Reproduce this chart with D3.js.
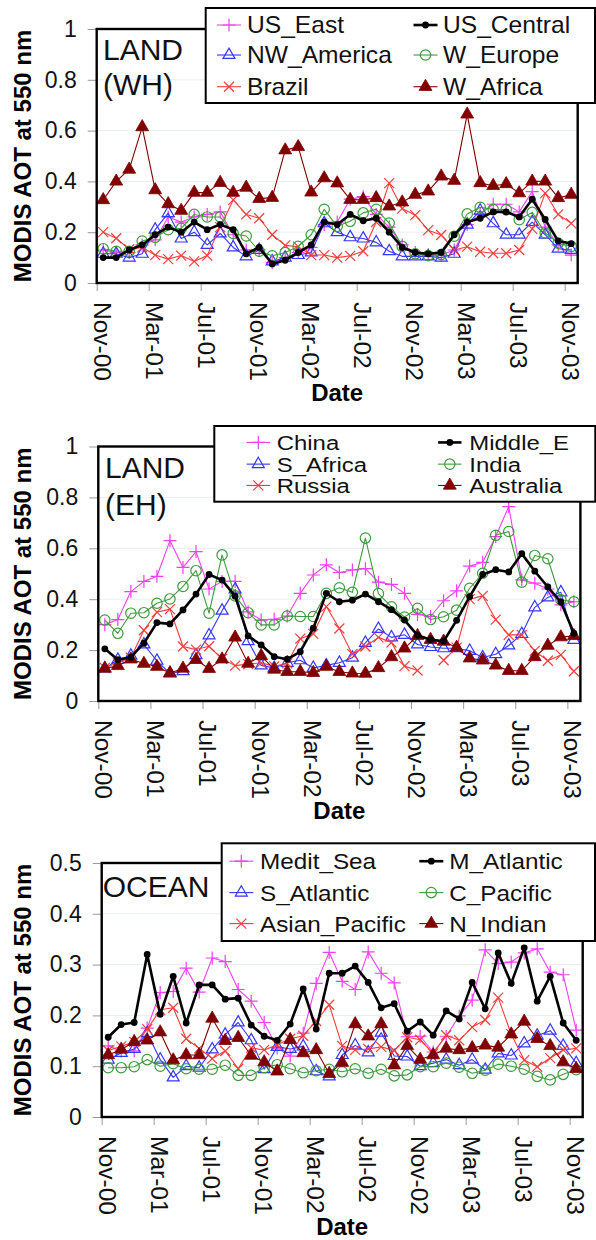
<!DOCTYPE html>
<html>
<head>
<meta charset="utf-8">
<script src="https://cdn.jsdelivr.net/npm/d3@7"></script>
<style>
  body { margin: 0; background: #fff; }
  svg { display: block; font-family: Arial, "Liberation Sans", Helvetica, sans-serif; }
</style>
</head>
<body>
<svg id="chart" width="596" height="1240"></svg>
<script>
// Monthly MODIS AOT (550 nm), Nov-2000 .. Nov-2003 (37 months)
const monthCount = 37;
const dateTicks = ["Nov-00","Mar-01","Jul-01","Nov-01","Mar-02","Jul-02","Nov-02","Mar-03","Jul-03","Nov-03"];
const landTicks = [0, 0.2, 0.4, 0.6, 0.8, 1];
const oceanTicks = [0, 0.1, 0.2, 0.3, 0.4, 0.5];

// LAND, western hemisphere
const usEast    = [0.13,0.12,0.12,0.15,0.17,0.26,0.24,0.26,0.27,0.28,0.19,0.13,0.13,0.08,0.10,0.12,0.14,0.23,0.24,0.33,0.34,0.27,0.22,0.15,0.12,0.11,0.11,0.13,0.23,0.27,0.31,0.31,0.28,0.36,0.22,0.15,0.11];
const usCentral = [0.10,0.10,0.13,0.15,0.19,0.22,0.20,0.24,0.21,0.23,0.21,0.115,0.14,0.075,0.09,0.12,0.15,0.24,0.23,0.27,0.245,0.255,0.20,0.14,0.12,0.115,0.12,0.19,0.24,0.255,0.28,0.28,0.26,0.33,0.25,0.165,0.155];
const nwAmerica = [0.115,0.115,0.10,0.115,0.21,0.275,0.175,0.20,0.15,0.195,0.14,0.105,0.13,0.085,0.10,0.11,0.12,0.235,0.20,0.18,0.175,0.16,0.125,0.105,0.105,0.105,0.10,0.115,0.23,0.285,0.235,0.19,0.19,0.24,0.19,0.135,0.13];
const wEurope   = [0.135,0.125,0.125,0.165,0.18,0.21,0.215,0.27,0.26,0.26,0.195,0.185,0.125,0.107,0.12,0.144,0.19,0.29,0.223,0.243,0.276,0.29,0.236,0.144,0.115,0.108,0.112,0.184,0.272,0.298,0.29,0.289,0.249,0.278,0.197,0.157,0.144];
const brazil    = [0.20,0.176,0.133,0.14,0.11,0.094,0.108,0.085,0.108,0.22,0.327,0.27,0.255,0.19,0.148,0.143,0.11,0.11,0.10,0.107,0.125,0.24,0.393,0.293,0.267,0.208,0.189,0.13,0.143,0.123,0.117,0.117,0.13,0.213,0.354,0.27,0.235];
const wAfrica   = [0.327,0.40,0.447,0.614,0.366,0.311,0.285,0.356,0.356,0.395,0.356,0.376,0.332,0.336,0.523,0.536,0.357,0.413,0.393,0.328,0.328,0.335,0.302,0.318,0.348,0.361,0.42,0.403,0.664,0.394,0.383,0.39,0.354,0.40,0.40,0.335,0.348];

// LAND, eastern hemisphere
const china     = [0.30,0.32,0.43,0.47,0.49,0.63,0.525,0.587,0.44,0.47,0.47,0.35,0.318,0.321,0.334,0.423,0.495,0.535,0.505,0.515,0.52,0.467,0.458,0.423,0.34,0.332,0.394,0.433,0.53,0.545,0.646,0.764,0.476,0.463,0.44,0.378,0.39];
const middleE   = [0.205,0.162,0.172,0.227,0.308,0.303,0.358,0.42,0.497,0.475,0.412,0.256,0.22,0.174,0.164,0.194,0.286,0.423,0.39,0.396,0.42,0.39,0.359,0.318,0.258,0.241,0.235,0.317,0.41,0.497,0.516,0.507,0.579,0.51,0.448,0.389,0.266];
const sAfrica   = [0.128,0.162,0.178,0.222,0.158,0.108,0.117,0.18,0.258,0.355,0.438,0.235,0.14,0.13,0.15,0.16,0.13,0.14,0.15,0.17,0.228,0.283,0.25,0.26,0.222,0.212,0.207,0.207,0.197,0.171,0.184,0.218,0.263,0.368,0.407,0.427,0.24];
const india     = [0.318,0.266,0.345,0.347,0.384,0.401,0.45,0.512,0.345,0.574,0.413,0.347,0.299,0.299,0.334,0.332,0.332,0.423,0.445,0.427,0.64,0.422,0.37,0.33,0.364,0.32,0.331,0.357,0.443,0.502,0.651,0.666,0.467,0.572,0.559,0.398,0.39];
const russia    = [0.13,0.15,0.17,0.278,0.349,0.361,0.214,0.202,0.215,0.166,0.139,0.145,0.15,0.136,0.148,0.245,0.264,0.371,0.285,0.184,0.214,0.25,0.23,0.137,0.12,null,0.16,0.21,0.40,0.413,0.32,0.26,0.26,0.197,0.158,0.181,0.117];
const australia = [0.128,0.138,0.164,0.147,0.135,0.11,0.128,0.162,0.127,0.164,0.25,0.147,0.177,0.124,0.115,0.115,0.111,0.135,0.115,0.109,0.108,0.13,0.173,0.207,0.256,0.241,0.234,0.21,0.168,0.16,0.14,0.119,0.119,0.173,0.218,0.251,0.256];

// OCEAN
const meditSea     = [0.14,0.13,0.13,0.175,0.245,0.247,0.293,0.246,0.313,0.306,0.251,0.228,0.186,0.136,0.12,0.165,0.263,0.324,0.267,0.251,0.325,0.283,0.264,0.158,0.159,0.128,0.159,0.199,0.23,0.329,0.302,0.305,0.323,0.331,0.285,0.28,0.171];
const mAtlantic    = [0.157,0.182,0.186,0.32,0.202,0.277,0.185,0.26,0.26,0.232,0.234,0.181,0.159,0.151,0.183,0.252,0.173,0.283,0.283,0.297,0.265,0.215,0.223,0.169,0.187,0.161,0.209,0.193,0.265,0.213,0.323,0.263,0.333,0.228,0.277,0.185,0.151];
const sAtlantic    = [0.113,0.126,0.134,0.165,0.113,0.078,0.1,0.097,0.133,0.162,0.186,0.151,0.094,0.138,0.134,0.139,0.09,0.08,0.122,0.141,0.127,0.166,0.12,0.119,0.1,0.106,0.113,0.102,0.113,0.093,0.125,0.121,0.145,0.16,0.17,0.14,0.106];
const cPacific     = [0.097,0.097,0.099,0.113,0.1,0.105,0.095,0.094,0.094,0.102,0.082,0.082,0.097,0.103,0.095,0.087,0.091,0.094,0.089,0.095,0.086,0.094,0.081,0.083,0.099,0.099,0.106,0.098,0.086,0.092,0.104,0.1,0.094,0.08,0.073,0.084,0.093];
const asianPacific = [0.131,0.139,0.148,0.173,0.211,0.215,0.154,0.135,0.115,0.13,0.095,0.136,0.132,0.142,0.154,0.16,0.189,0.221,0.14,0.132,0.134,0.138,0.131,0.157,0.152,0.125,0.161,0.151,0.177,0.191,0.235,0.163,0.112,0.099,0.116,0.132,0.135];
const nIndian      = [0.122,0.133,0.148,0.151,0.167,0.112,0.122,0.122,0.194,0.15,0.156,0.121,0.108,0.09,0.152,0.126,0.132,0.085,0.107,0.183,0.159,0.183,0.102,0.14,0.113,0.122,0.135,0.132,0.136,0.141,0.137,0.163,0.188,0.154,0.14,0.108,0.095];

// Series look, by slot (same six slots in every panel)
const slotStyles = {
  plus:    { color: "#f040f0", width: 1.1, marker: "plus" },
  dot:     { color: "#000000", width: 2.6, marker: "dot" },
  triOpen: { color: "#3535ff", width: 1.1, marker: "triOpen" },
  circOpen:{ color: "#3d9a3d", width: 1.1, marker: "circOpen" },
  cross:   { color: "#f53c3c", width: 1.1, marker: "cross" },
  triFill: { color: "#800000", width: 1.1, marker: "triFill" }
};

const panels = [
  {
    title: ["LAND", "(WH)"], titleX: 103, titleY: [60, 95],
    box: { left: 96.7, right: 577.7, top: 29, bottom: 283 },
    yMax: 1, yTicks: landTicks, yFmt: d => d === 0 || d === 1 ? String(d) : d.toFixed(1),
    series: [
      { name: "US_East",    values: usEast,    slot: "plus" },
      { name: "NW_America", values: nwAmerica, slot: "triOpen" },
      { name: "Brazil",     values: brazil,    slot: "cross" },
      { name: "W_Europe",   values: wEurope,   slot: "circOpen" },
      { name: "W_Africa",   values: wAfrica,   slot: "triFill" },
      { name: "US_Central", values: usCentral, slot: "dot" }
    ],
    legend: {
      rect: [205.7, 8, 389.3, 95], cols: [229, 425.5], textX: [247, 443],
      rows: [33.3, 63.3, 95], font: 23, sx: 1.07, half: 12,
      order: [["US_East","US_Central"],["NW_America","W_Europe"],["Brazil","W_Africa"]]
    }
  },
  {
    title: ["LAND", "(EH)"], titleX: 105, titleY: [478, 515],
    box: { left: 98.3, right: 580.4, top: 446.5, bottom: 701 },
    yMax: 1, yTicks: landTicks, yFmt: d => d === 0 || d === 1 ? String(d) : d.toFixed(1),
    series: [
      { name: "China",     values: china,     slot: "plus" },
      { name: "S_Africa",  values: sAfrica,   slot: "triOpen" },
      { name: "Russia",    values: russia,    slot: "cross" },
      { name: "India",     values: india,     slot: "circOpen" },
      { name: "Australia", values: australia, slot: "triFill" },
      { name: "Middle_E",  values: middleE,   slot: "dot" }
    ],
    legend: {
      rect: [214.3, 426, 381, 75.7], cols: [258.3, 449.8], textX: [276.7, 469.3],
      rows: [450, 471.7, 493], font: 21, sx: 1.14, half: 11.7,
      order: [["China","Middle_E"],["S_Africa","India"],["Russia","Australia"]]
    }
  },
  {
    title: ["OCEAN"], titleX: 102.7, titleY: [896.7],
    box: { left: 101.7, right: 582.7, top: 863, bottom: 1117 },
    yMax: 0.5, yTicks: oceanTicks, yFmt: d => d === 0 ? "0" : d.toFixed(1),
    series: [
      { name: "Medit_Sea",     values: meditSea,     slot: "plus" },
      { name: "S_Atlantic",    values: sAtlantic,    slot: "triOpen" },
      { name: "Asian_Pacific", values: asianPacific, slot: "cross" },
      { name: "C_Pacific",     values: cPacific,     slot: "circOpen" },
      { name: "N_Indian",      values: nIndian,      slot: "triFill" },
      { name: "M_Atlantic",    values: mAtlantic,    slot: "dot" }
    ],
    legend: {
      rect: [221.7, 843.3, 373.3, 97.7], cols: [241.3, 431.3], textX: [260, 449.3],
      rows: [869.3, 900.7, 931.7], font: 22.5, sx: 1.08, half: 12,
      order: [["Medit_Sea","M_Atlantic"],["S_Atlantic","C_Pacific"],["Asian_Pacific","N_Indian"]]
    }
  }
];

const svg = d3.select("#chart");

function drawMarker(sel, kind, color) {
  switch (kind) {
    case "plus":
      return sel.append("path").attr("d", "M-6.5,0H6.5M0,-6.5V6.5")
        .attr("fill", "none").attr("stroke", color).attr("stroke-width", 1.2);
    case "cross":
      return sel.append("path").attr("d", "M-5,-5L5,5M-5,5L5,-5")
        .attr("fill", "none").attr("stroke", color).attr("stroke-width", 1.2);
    case "triOpen":
      return sel.append("path").attr("d", d3.symbol(d3.symbolTriangle, 62)())
        .attr("fill", "none").attr("stroke", color).attr("stroke-width", 1.2);
    case "triFill":
      return sel.append("path").attr("d", d3.symbol(d3.symbolTriangle, 72)())
        .attr("fill", color).attr("stroke", color).attr("stroke-width", 0.8);
    case "circOpen":
      return sel.append("circle").attr("r", 5.2)
        .attr("fill", "none").attr("stroke", color).attr("stroke-width", 1.2);
    case "dot":
      return sel.append("circle").attr("r", 3.4).attr("fill", color);
  }
}

panels.forEach(p => {
  const b = p.box;
  const g = svg.append("g");

  const x = d3.scaleLinear().domain([0, monthCount]).range([b.left, b.right]);
  const y = d3.scaleLinear().domain([0, p.yMax]).range([b.bottom, b.top]);

  // faint horizontal gridlines
  g.append("g").selectAll("line")
    .data(p.yTicks.filter(t => t > 0 && t < p.yMax))
    .join("line")
    .attr("x1", b.left).attr("x2", b.right)
    .attr("y1", d => y(d)).attr("y2", d => y(d))
    .attr("stroke", "#e9eef1").attr("stroke-width", 1);

  // y axis: ticks + labels
  const yAxis = d3.axisLeft(y).tickValues(p.yTicks).tickFormat(p.yFmt).tickSize(9).tickPadding(11);
  const ya = g.append("g").attr("transform", `translate(${b.left},0)`).call(yAxis);
  ya.select(".domain").remove();
  ya.selectAll(".tick line").attr("stroke", "#999").attr("stroke-width", 1);
  ya.selectAll(".tick text").attr("font-size", 23).attr("fill", "#111")
    .attr("font-family", "Arial, 'Liberation Sans', sans-serif");

  // x axis ticks at month boundaries every 4 months
  const tickMonths = d3.range(0, monthCount, 4);
  const xAxis = d3.axisBottom(x).tickValues(tickMonths).tickSize(8).tickFormat("");
  const xa = g.append("g").attr("transform", `translate(0,${b.bottom})`).call(xAxis);
  xa.select(".domain").remove();
  xa.selectAll(".tick line").attr("stroke", "#999").attr("stroke-width", 1);

  // rotated date labels, centred on their month
  g.append("g").selectAll("text")
    .data(tickMonths)
    .join("text")
    .attr("transform", (d) => `translate(${x(d + 0.5) - 1},${b.bottom + 19}) rotate(90)`)
    .attr("dy", "0.35em")
    .attr("font-size", 24.5)
    .attr("fill", "#111")
    .text((d, i) => dateTicks[i]);

  // axis titles
  g.append("text")
    .attr("x", (b.left + b.right) / 2).attr("y", b.bottom + 118)
    .attr("text-anchor", "middle").attr("font-size", 24).attr("font-weight", "bold")
    .text("Date");
  g.append("text")
    .attr("transform", `translate(31,${(b.top + b.bottom) / 2}) rotate(-90)`)
    .attr("text-anchor", "middle").attr("font-size", 24).attr("font-weight", "bold")
    .text("MODIS AOT at 550 nm");

  // series
  const line = d3.line()
    .defined(d => d != null)
    .x((d, i) => x(i + 0.5))
    .y(d => y(d));

  p.series.forEach(s => {
    const st = slotStyles[s.slot];
    const sg = g.append("g");
    sg.append("path")
      .attr("d", line(s.values))
      .attr("fill", "none")
      .attr("stroke", st.color)
      .attr("stroke-width", st.width)
      .attr("stroke-linejoin", "round");
    s.values.forEach((v, i) => {
      if (v == null) return;
      const mg = sg.append("g").attr("transform", `translate(${x(i + 0.5)},${y(v)})`);
      drawMarker(mg, st.marker, st.color);
    });
  });

  // plot frame
  g.append("rect")
    .attr("x", b.left).attr("y", b.top)
    .attr("width", b.right - b.left).attr("height", b.bottom - b.top)
    .attr("fill", "none").attr("stroke", "#000").attr("stroke-width", 2.4);

  // panel title
  p.title.forEach((t, i) => {
    g.append("text")
      .attr("x", p.titleX).attr("y", p.titleY[i])
      .attr("font-size", 30).attr("fill", "#111")
      .text(t);
  });

  // legend
  const L = p.legend;
  const lg = g.append("g");
  lg.append("rect")
    .attr("x", L.rect[0]).attr("y", L.rect[1])
    .attr("width", L.rect[2]).attr("height", L.rect[3])
    .attr("fill", "#fff").attr("stroke", "#000").attr("stroke-width", 2);
  L.order.forEach((row, r) => {
    row.forEach((name, c) => {
      const s = p.series.find(d => d.name === name);
      const st = slotStyles[s.slot];
      const cy = L.rows[r] - L.font * 0.36;
      const cx = L.cols[c];
      lg.append("line")
        .attr("x1", cx - L.half).attr("x2", cx + L.half)
        .attr("y1", cy).attr("y2", cy)
        .attr("stroke", st.color).attr("stroke-width", st.width);
      drawMarker(lg.append("g").attr("transform", `translate(${cx},${cy})`), st.marker, st.color);
      lg.append("text")
        .attr("transform", `translate(${L.textX[c]},${L.rows[r]}) scale(${L.sx},1)`)
        .attr("font-size", L.font).attr("fill", "#111")
        .text(name);
    });
  });
});
</script>
</body>
</html>
